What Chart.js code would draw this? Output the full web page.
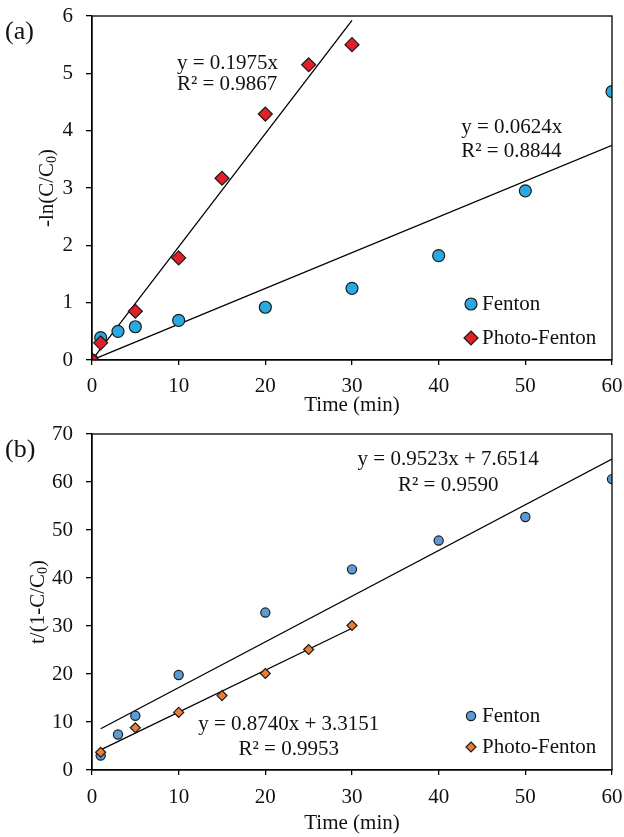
<!DOCTYPE html>
<html>
<head>
<meta charset="utf-8">
<script src="https://cdn.jsdelivr.net/npm/chart.js@4/dist/chart.umd.min.js"></script>
<style>
  body { margin: 0; background: #fff; }
  canvas { display: block; }
</style>
</head>
<body>
<canvas id="chartA" width="624" height="418"></canvas>
<canvas id="chartB" width="624" height="419"></canvas>
<script>
// (a) pseudo-first-order: -ln(C/C0) vs time
const timeA = [0, 1, 3, 5, 10, 20, 30, 40, 50, 60];
const fentonA = [0, 0.39, 0.50, 0.58, 0.69, 0.92, 1.25, 1.82, 2.95, 4.68];
const photoTimeA = [0, 1, 5, 10, 15, 20, 25, 30];
const photoA = [0, 0.30, 0.85, 1.78, 3.17, 4.29, 5.15, 5.50];
const slopeA = [0.0624, 0.1975];       // Fenton, Photo-Fenton
const r2A = [0.8844, 0.9867];
const fitEndA = [60, 30];

// (b) second-order style: t/(1-C/C0) vs time
const timeB = [1, 3, 5, 10, 20, 30, 40, 50, 60];
const fentonB = [3.0, 7.4, 11.3, 19.8, 32.8, 41.8, 47.8, 52.7, 60.6];
const photoTimeB = [1, 5, 10, 15, 20, 25, 30];
const photoB = [3.7, 8.8, 12.0, 15.5, 20.1, 25.1, 30.1];
const slopeB = [0.9523, 0.8740];
const interceptB = [7.6514, 3.3151];
const r2B = [0.9590, 0.9953];
const fitStartB = [1, 1];
const fitEndB = [60, 30];

const xTicks = [0, 60, 10];            // min, max, step
const yTicksA = [0, 6, 1];
const yTicksB = [0, 70, 10];

const serif = "'Liberation Serif', 'Times New Roman', serif";
Chart.defaults.font.family = serif;
Chart.defaults.font.size = 21;
Chart.defaults.color = '#111';

const pts = (xs, ys) => xs.map((x, i) => ({ x: x, y: ys[i] }));
const fitLine = (m, b, x0, x1) => [{ x: x0, y: m * x0 + b }, { x: x1, y: m * x1 + b }];

function lineSet(data) {
  return { data: data, showLine: true, pointRadius: 0, borderColor: '#000', borderWidth: 1.3, order: 5 };
}

function drawMarker(ctx, style, x, y, r, fill) {
  ctx.beginPath();
  if (style === 'circle') {
    ctx.arc(x, y, r, 0, Math.PI * 2);
  } else {
    ctx.moveTo(x, y - r); ctx.lineTo(x + r, y); ctx.lineTo(x, y + r); ctx.lineTo(x - r, y);
    ctx.closePath();
  }
  ctx.fillStyle = fill;
  ctx.fill();
  ctx.lineWidth = 1.2;
  ctx.strokeStyle = '#1b1b1b';
  ctx.stroke();
}

// frame, panel tag, y title with subscript, fit equations and legend
function decor(cfg) {
  return {
    id: 'decor',
    afterDraw(chart) {
      const { ctx, chartArea: a, scales } = chart;
      ctx.save();
      ctx.strokeStyle = '#000';
      ctx.lineWidth = 1.3;
      ctx.strokeRect(a.left, a.top, a.right - a.left, a.bottom - a.top);

      ctx.fillStyle = '#111';
      ctx.textBaseline = 'middle';
      ctx.font = '26px ' + serif;
      ctx.textAlign = 'left';
      ctx.fillText(cfg.tag, 5, cfg.tagY);

      // rotated axis title
      const [pre, sub, post] = cfg.yTitle;
      const big = '21px ' + serif, small = '14px ' + serif;
      ctx.font = big; const w1 = ctx.measureText(pre).width, w3 = ctx.measureText(post).width;
      ctx.font = small; const w2 = ctx.measureText(sub).width;
      ctx.save();
      ctx.translate(cfg.yTitleX, (a.top + a.bottom) / 2);
      ctx.rotate(-Math.PI / 2);
      let x = -(w1 + w2 + w3) / 2;
      ctx.font = big; ctx.fillText(pre, x, 0); x += w1;
      ctx.font = small; ctx.fillText(sub, x, 5); x += w2;
      ctx.font = big; ctx.fillText(post, x, 0);
      ctx.restore();

      ctx.font = big;
      cfg.notes.forEach(n => {
        ctx.textAlign = n.align;
        ctx.fillText(n.text, scales.x.getPixelForValue(n.x), scales.y.getPixelForValue(n.y));
      });

      ctx.textAlign = 'left';
      cfg.legend.forEach((l, i) => {
        const ly = a.bottom - cfg.legendRows[i];
        const lx = a.right - 141;
        drawMarker(ctx, l.style, lx, ly, l.r, l.color);
        ctx.fillStyle = '#111';
        ctx.fillText(l.label, lx + 11, ly);
      });
      ctx.restore();
    }
  };
}

function noPad(s) {
  s.paddingTop = 0; s.paddingBottom = 0; s.paddingLeft = 0; s.paddingRight = 0;
}

function axes(yRange, yWidth, xHeight, tickPad, titlePad) {
  const grid = (len) => ({ drawOnChartArea: false, tickLength: len, color: '#000', lineWidth: 1.3 });
  return {
    x: {
      type: 'linear', min: xTicks[0], max: xTicks[1],
      ticks: { stepSize: xTicks[2], padding: tickPad, color: '#111' },
      grid: grid(5), border: { color: '#000', width: 1.3 },
      title: { display: true, text: 'Time (min)', color: '#111', padding: { top: 0, bottom: titlePad } },
      afterFit: s => { s.height = xHeight; noPad(s); }
    },
    y: {
      min: yRange[0], max: yRange[1],
      ticks: { stepSize: yRange[2], padding: 13, color: '#111' },
      grid: grid(6), border: { color: '#000', width: 1.3 },
      afterFit: s => { s.width = yWidth; noPad(s); }
    }
  };
}

const baseOpts = {
  responsive: false,
  animation: false,
  plugins: { legend: { display: false }, tooltip: { enabled: false } }
};

const fmt = v => v.toFixed(4);

new Chart(document.getElementById('chartA'), {
  type: 'scatter',
  data: {
    datasets: [
      { label: 'Fenton', data: pts(timeA, fentonA), pointStyle: 'circle', pointRadius: 6,
        backgroundColor: '#29A9E1', borderColor: '#1b1b1b', borderWidth: 1.2, order: 1 },
      { label: 'Photo-Fenton', data: pts(photoTimeA, photoA), pointStyle: 'rectRot', pointRadius: 7,
        backgroundColor: '#E3202A', borderColor: '#1b1b1b', borderWidth: 1.2, order: 0 },
      lineSet(fitLine(slopeA[0], 0, 0, fitEndA[0])),
      lineSet(fitLine(slopeA[1], 0, 0, fitEndA[1]))
    ]
  },
  options: Object.assign({}, baseOpts, {
    layout: { padding: { left: 0, right: 12, top: 16, bottom: 0 } },
    scales: axes(yTicksA, 92, 58, 9, 0)
  }),
  plugins: [decor({
    tag: '(a)', tagY: 32,
    yTitle: ['-ln(C/C', '0', ')'], yTitleX: 47,
    notes: [
      { x: 9.8, y: 5.18, align: 'left', text: 'y = ' + fmt(slopeA[1]) + 'x' },
      { x: 9.8, y: 4.80, align: 'left', text: 'R² = ' + fmt(r2A[1]) },
      { x: 42.6, y: 4.06, align: 'left', text: 'y = ' + fmt(slopeA[0]) + 'x' },
      { x: 42.6, y: 3.64, align: 'left', text: 'R² = ' + fmt(r2A[0]) }
    ],
    legend: [
      { label: 'Fenton', style: 'circle', r: 6, color: '#29A9E1' },
      { label: 'Photo-Fenton', style: 'diamond', r: 7, color: '#E3202A' }
    ],
    legendRows: [56, 22]
  })]
});

new Chart(document.getElementById('chartB'), {
  type: 'scatter',
  data: {
    datasets: [
      { label: 'Fenton', data: pts(timeB, fentonB), pointStyle: 'circle', pointRadius: 4.6,
        backgroundColor: '#5B9BD5', borderColor: '#1b1b1b', borderWidth: 1.2, order: 1 },
      { label: 'Photo-Fenton', data: pts(photoTimeB, photoB), pointStyle: 'rectRot', pointRadius: 5,
        backgroundColor: '#ED7D31', borderColor: '#1b1b1b', borderWidth: 1.2, order: 0 },
      lineSet(fitLine(slopeB[0], interceptB[0], fitStartB[0], fitEndB[0])),
      lineSet(fitLine(slopeB[1], interceptB[1], fitStartB[1], fitEndB[1]))
    ]
  },
  options: Object.assign({}, baseOpts, {
    layout: { padding: { left: 0, right: 12, top: 16, bottom: 0 } },
    scales: axes(yTicksB, 92, 67, 10, 1.4)
  }),
  plugins: [decor({
    tag: '(b)', tagY: 32,
    yTitle: ['t/(1-C/C', '0', ')'], yTitleX: 38,
    notes: [
      { x: 41.1, y: 64.6, align: 'center', text: 'y = ' + fmt(slopeB[0]) + 'x + ' + fmt(interceptB[0]) },
      { x: 41.1, y: 59.2, align: 'center', text: 'R² = ' + fmt(r2B[0]) },
      { x: 22.7, y: 9.4, align: 'center', text: 'y = ' + fmt(slopeB[1]) + 'x + ' + fmt(interceptB[1]) },
      { x: 22.7, y: 4.2, align: 'center', text: 'R² = ' + fmt(r2B[1]) }
    ],
    legend: [
      { label: 'Fenton', style: 'circle', r: 4.6, color: '#5B9BD5' },
      { label: 'Photo-Fenton', style: 'diamond', r: 5, color: '#ED7D31' }
    ],
    legendRows: [54, 23]
  })]
});
</script>
</body>
</html>
